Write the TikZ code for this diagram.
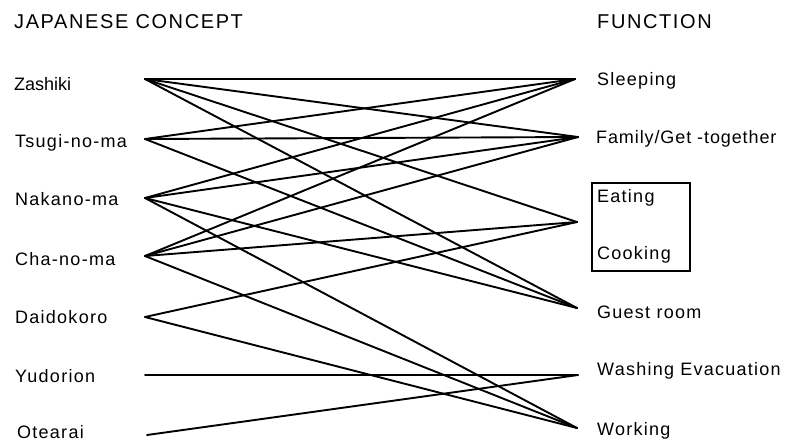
\documentclass[tikz,border=0pt]{standalone}
\usepackage{fontspec}
\setmainfont{Liberation Sans}
\begin{document}
\begin{tikzpicture}[x=1pt,y=-1pt,
  lbl/.style={anchor=base west,inner sep=0pt,font=\fontsize{18}{20}\selectfont\addfontfeatures{LetterSpace=7}},
  tight/.style={font=\fontsize{18}{20}\selectfont},
  head/.style={anchor=base west,inner sep=0pt,font=\fontsize{20}{22}\selectfont\addfontfeatures{LetterSpace=8}},
  link/.style={line width=1.9pt,line cap=round,line join=round},
  frame/.style={draw,line width=2.2pt}]
\useasboundingbox (0,0) rectangle (785,442);
% headers
\node[head] (hl) at (14,28) {JAPANESE CONCEPT};
\node[head] (hr) at (597,28) {FUNCTION};
% left labels
\node[lbl,tight] (tz) at (14,90) {Zashiki};
\node[lbl] (tt) at (15,147) {Tsugi-no-ma};
\node[lbl] (tn) at (15,205) {Nakano-ma};
\node[lbl] (tc) at (15,265) {Cha-no-ma};
\node[lbl] (td) at (15,323) {Daidokoro};
\node[lbl] (ty) at (15,382) {Yudorion};
\node[lbl] (to) at (17,438) {Otearai};
% right labels
\node[lbl] (ts) at (597,85) {Sleeping};
\node[lbl,font=\fontsize{18}{20}\selectfont\addfontfeatures{LetterSpace=5}] (tf) at (596,143) {Family/Get -together};
\node[lbl] (te) at (597,202) {Eating};
\node[lbl] (tk) at (597,259) {Cooking};
\node[lbl] (tg) at (597,318) {Guest room};
\node[lbl] (tw) at (597,375) {Washing Evacuation};
\node[lbl] (tr) at (597,435) {Working};
% box round Eating / Cooking
\node[frame,inner sep=0pt,minimum width=98pt,minimum height=88pt,anchor=north west] (box) at (591,182) {};
% end points
\coordinate (Lz) at (145,79);
\coordinate (Lt) at (145,139);
\coordinate (Ln) at (145,198);
\coordinate (Lc) at (145,256);
\coordinate (Ld) at (145,317);
\coordinate (Ly) at (145,375);
\coordinate (Lo) at (147,435);
\coordinate (Rs) at (575,79);
\coordinate (Rf) at (578,137);
\coordinate (Re) at (577,222);
\coordinate (Rg) at (577,308);
\coordinate (Rw) at (578,375);
\coordinate (Rr) at (577,428);
% connectors
\draw[link] (Lz) -- (Rs);
\draw[link] (Lz) -- (Rf);
\draw[link] (Lz) -- (Re);
\draw[link] (Lz) -- (Rg);
\draw[link] (Lt) -- (Rs);
\draw[link] (Lt) -- (Rf);
\draw[link] (Lt) -- (Rg);
\draw[link] (Ln) -- (Rs);
\draw[link] (Ln) -- (Rf);
\draw[link] (Ln) -- (Rg);
\draw[link] (Ln) -- (Rr);
\draw[link] (Lc) -- (Rs);
\draw[link] (Lc) -- (Rf);
\draw[link] (Lc) -- (Re);
\draw[link] (Lc) -- (Rr);
\draw[link] (Ld) -- (Re);
\draw[link] (Ld) -- (Rr);
\draw[link] (Ly) -- (Rw);
\draw[link] (Lo) -- (Rw);
\end{tikzpicture}
\end{document}
